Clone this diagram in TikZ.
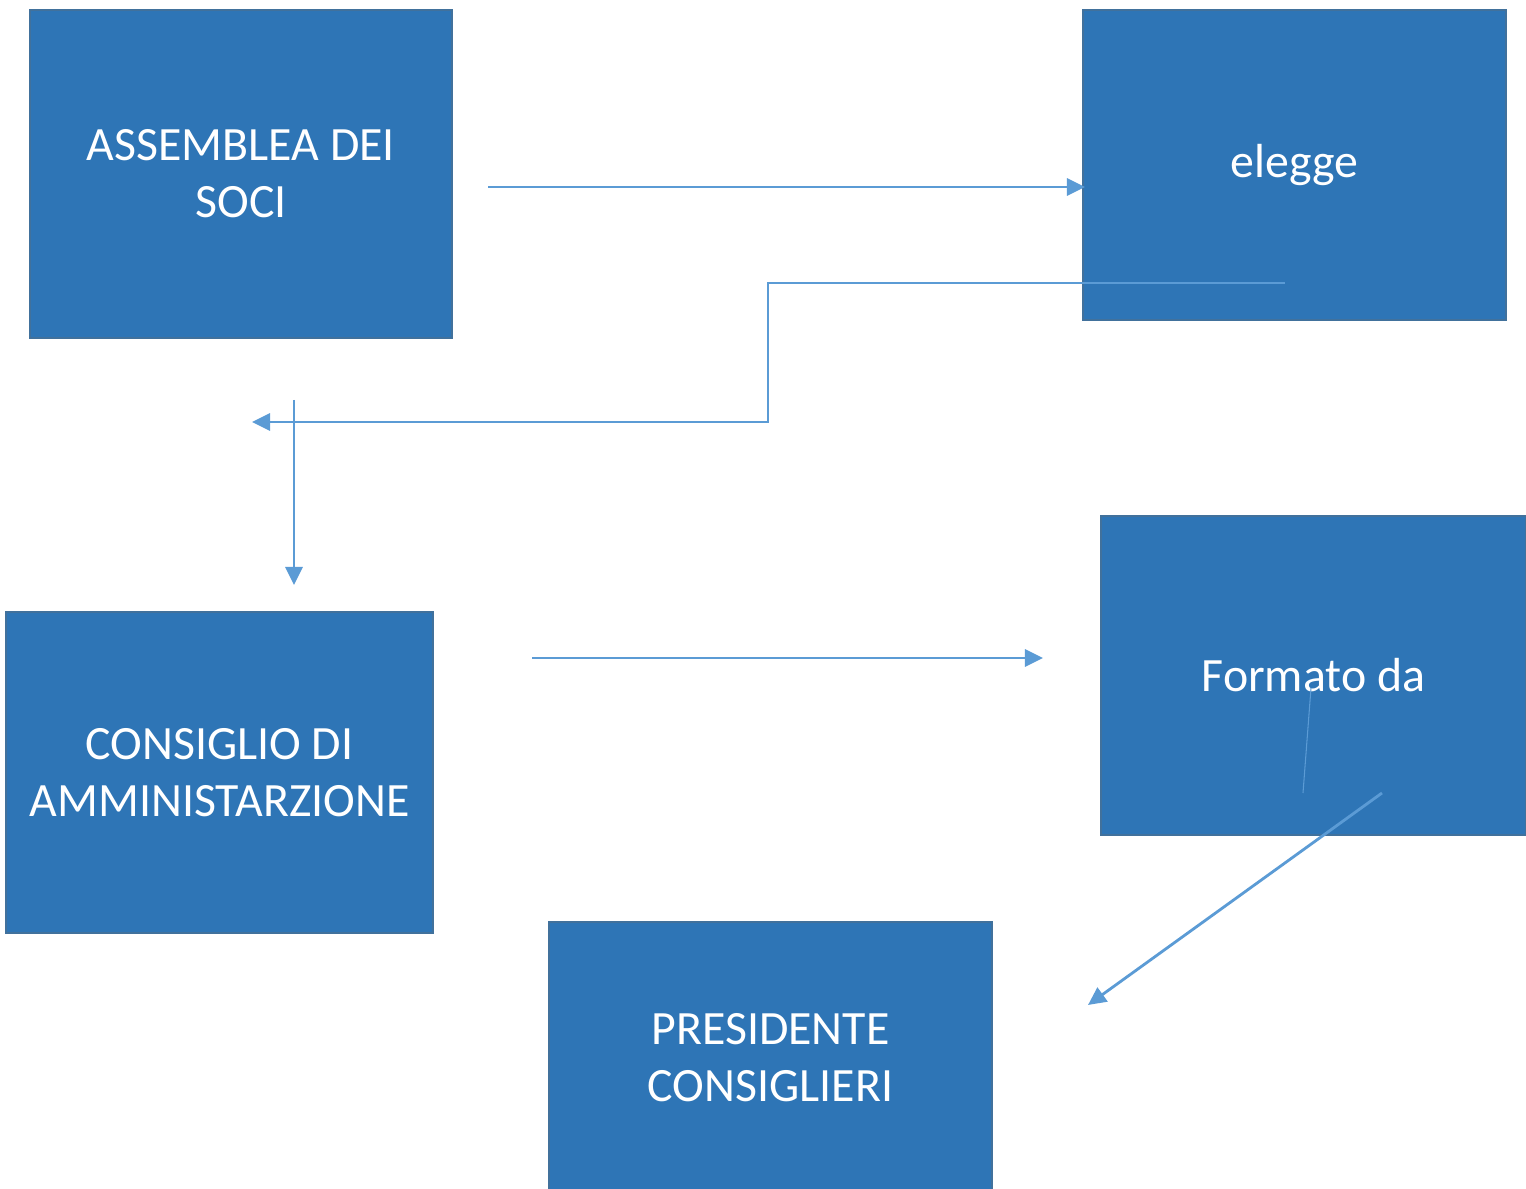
\documentclass[tikz,border=0pt]{standalone}
\usepackage{fontspec}
\setmainfont{Carlito}
\usetikzlibrary{arrows.meta,positioning}
\definecolor{boxblue}{HTML}{2E75B6}
\definecolor{boxedge}{HTML}{41719C}
\definecolor{linkblue}{HTML}{5B9BD5}
\tikzset{
  orgbox/.style={rectangle,draw=boxedge,line width=0.6pt,fill=boxblue,text=white,align=center,
    inner sep=0pt,font=\fontsize{13.6}{16.2}\selectfont},
  link/.style={draw=linkblue,line width=0.8pt,-{Triangle[length=1.8mm,width=1.7mm]}},
  plainlink/.style={draw=linkblue,line width=0.8pt}
}

\begin{document}
\begin{tikzpicture}[x=0.01cm,y=-0.01cm]
  \useasboundingbox (0,0) rectangle (1526,1189);
  % boxes
  \node[orgbox,minimum width=4.22cm,minimum height=3.28cm] (soci) at (241,174) {ASSEMBLEA DEI\\SOCI};
  \node[orgbox,minimum width=4.23cm,minimum height=3.10cm] (elegge) at (1294.5,165) {elegge};
  \node[orgbox,minimum width=4.27cm,minimum height=3.21cm] (cda) at (219.5,772.5) {CONSIGLIO DI\\AMMINISTARZIONE};
  \node[orgbox,minimum width=4.25cm,minimum height=3.19cm] (formato) at (1313.5,675.5) {Formato da};
  \node[orgbox,minimum width=4.43cm,minimum height=2.72cm] (pres) at (770.5,1058) {PRESIDENTE\\CONSIGLIERI};

  % free ends of the connectors
  \coordinate (a1) at (488,187);
  \coordinate (a2) at (1085,187);
  \coordinate (b1) at (1285,283);
  \coordinate (b2) at (768,283);
  \coordinate (b3) at (768,422);
  \coordinate (b4) at (252,422);
  \coordinate (c1) at (294,400);
  \coordinate (c2) at (294,585);
  \coordinate (d1) at (532,658);
  \coordinate (d2) at (1043,658);
  \coordinate (e1) at (1311,688);
  \coordinate (e2) at (1303,793);
  \coordinate (f1) at (1382,793);
  \coordinate (f2) at (1088,1005);

  % connectors
  \draw[link] (a1) -- (a2);
  \draw[link] (b1) -- (b2) -- (b3) -- (b4);
  \draw[link] (c1) -- (c2);
  \draw[link] (d1) -- (d2);
  \draw[plainlink,line width=0.3pt] (e1) -- (e2);
  \draw[link] (f1) -- (f2);
\end{tikzpicture}
\end{document}
